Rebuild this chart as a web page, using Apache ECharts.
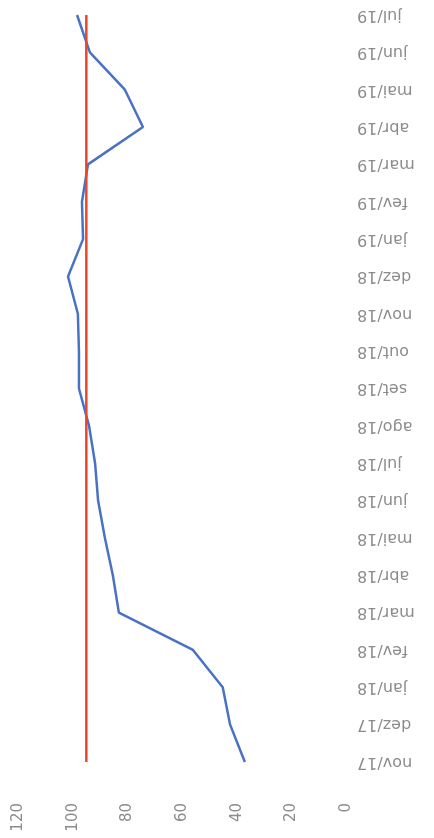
<!DOCTYPE html>
<html>
<head>
<meta charset="utf-8">
<script src="https://cdn.jsdelivr.net/npm/echarts@6/dist/echarts.min.js"></script>
<style>
html,body{margin:0;padding:0;background:#fff;}
#chart{width:434px;height:838px;}
</style>
</head>
<body>
<div id="chart"></div>
<script>
var categories = ["nov/17","dez/17","jan/18","fev/18","mar/18","abr/18","mai/18","jun/18","jul/18","ago/18","set/18","out/18","nov/18","dez/18","jan/19","fev/19","mar/19","abr/19","mai/19","jun/19","jul/19"];
var actual = [37.0,42.4,45.1,56.0,83.1,85.3,88.2,90.7,91.8,94.0,97.7,97.7,98.1,101.7,96.2,96.6,94.4,74.3,80.9,93.7,98.4];
var target = [95,95,95,95,95,95,95,95,95,95,95,95,95,95,95,95,95,95,95,95,95];
var valueTicks = [0,20,40,60,80,100,120];

var chart = echarts.init(document.getElementById('chart'), null, {renderer:'canvas'});
chart.setOption({
  animation:false,
  backgroundColor:'#fff',
  grid:{left:18,right:88,top:15,bottom:76,containLabel:false},
  xAxis:{
    type:'value', inverse:true, position:'bottom',
    min:valueTicks[0], max:valueTicks[valueTicks.length-1], interval:20,
    axisLine:{show:false}, axisTick:{show:false}, splitLine:{show:false},
    axisLabel:{rotate:90, margin:41, color:'#8c8c8c', fontSize:15, fontFamily:'DejaVu Sans'}
  },
  yAxis:{
    type:'category', position:'right', data:categories, boundaryGap:false,
    axisLine:{show:false}, axisTick:{show:false}, splitLine:{show:false},
    axisLabel:{rotate:180, margin:11, color:'#8c8c8c', fontSize:16, fontFamily:'DejaVu Sans'}
  },
  series:[
    {type:'line', data:actual, symbol:'none', lineStyle:{color:'#4a72c4', width:2.5}, z:2},
    {type:'line', data:target, symbol:'none', lineStyle:{color:'#e8472b', width:2.5}, z:3}
  ]
});
</script>
</body>
</html>
